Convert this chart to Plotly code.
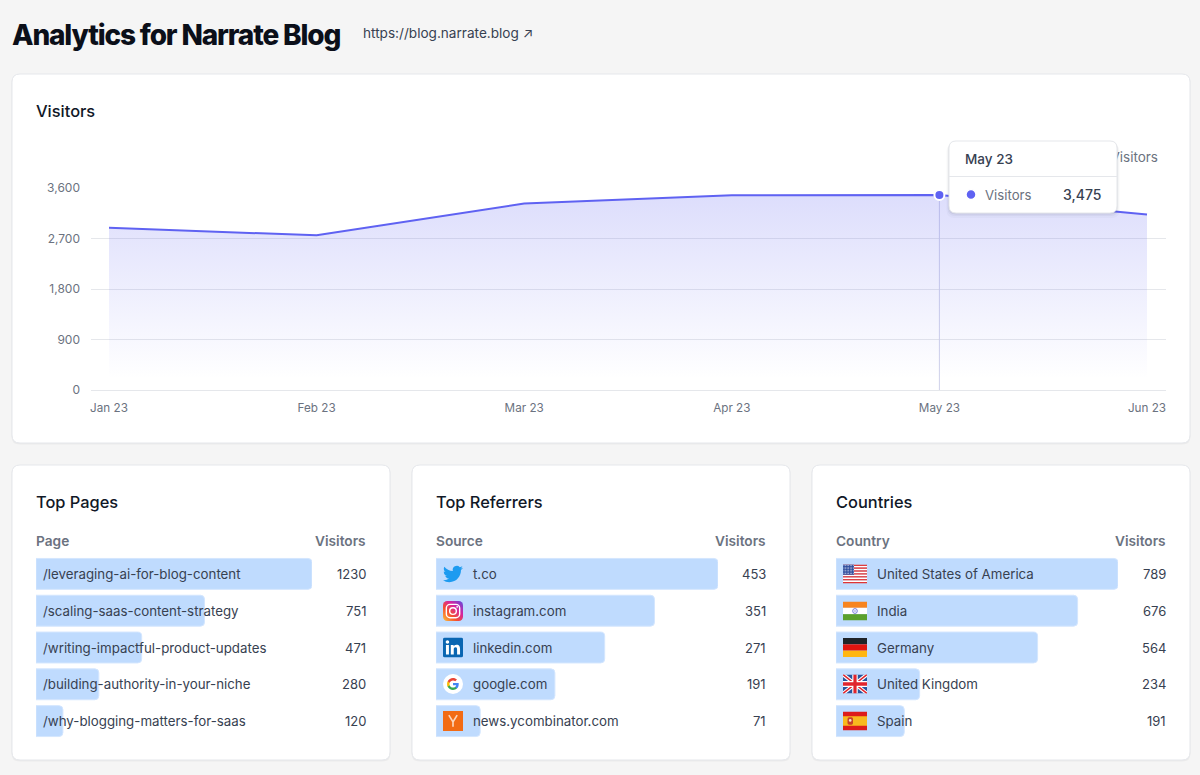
import base64
import plotly.graph_objects as go

W, H = 1200, 775

months = ["Jan 23", "Feb 23", "Mar 23", "Apr 23", "May 23", "Jun 23"]
visitors = [2890, 2756, 3322, 3470, 3475, 3129]
y_ticks = [0, 900, 1800, 2700, 3600]
y_tick_labels = ["0", "900", "1,800", "2,700", "3,600"]
highlight_index = 4

pages = ["/leveraging-ai-for-blog-content", "/scaling-saas-content-strategy",
         "/writing-impactful-product-updates", "/building-authority-in-your-niche",
         "/why-blogging-matters-for-saas"]
page_visitors = [1230, 751, 471, 280, 120]
referrers = ["t.co", "instagram.com", "linkedin.com", "google.com", "news.ycombinator.com"]
referrer_visitors = [453, 351, 271, 191, 71]
countries = ["United States of America", "India", "Germany", "United Kingdom", "Spain"]
country_visitors = [789, 676, 564, 234, 191]

FONT = "Inter"
INDIGO = "#5f62f2"
BAR = "#bfdbfe"
GRID = "#e5e7eb"
MUTED = "#6b7280"
TEXT = "#374151"
DARK = "#111827"


def px(x):
    return x / W


def py(y):
    return 1 - y / H


def rrect(x0, y0, x1, y1, r):
    return (f"M{px(x0+r)},{py(y0)} L{px(x1-r)},{py(y0)} Q{px(x1)},{py(y0)} {px(x1)},{py(y0+r)} "
            f"L{px(x1)},{py(y1-r)} Q{px(x1)},{py(y1)} {px(x1-r)},{py(y1)} "
            f"L{px(x0+r)},{py(y1)} Q{px(x0)},{py(y1)} {px(x0)},{py(y1-r)} "
            f"L{px(x0)},{py(y0+r)} Q{px(x0)},{py(y0)} {px(x0+r)},{py(y0)} Z")


def svg_uri(body, vw=24, vh=24):
    s = f'<svg xmlns="http://www.w3.org/2000/svg" viewBox="0 0 {vw} {vh}" width="{vw*4}" height="{vh*4}">{body}</svg>'
    return "data:image/svg+xml;base64," + base64.b64encode(s.encode()).decode()


TWITTER = ('<path fill="#1d9bf0" d="M23.953 4.57a10 10 0 01-2.825.775 4.958 4.958 0 002.163-2.723c-.951.555-2.005.959-3.127 1.184a4.92 4.92 0 00-8.384 4.482C7.69 8.095 4.067 6.13 1.64 3.162a4.822 4.822 0 00-.666 2.475c0 1.71.87 3.213 2.188 4.096a4.904 4.904 0 01-2.228-.616v.06a4.923 4.923 0 003.946 4.827 4.996 4.996 0 01-2.212.085 4.936 4.936 0 004.604 3.417 9.867 9.867 0 01-6.102 2.105c-.39 0-.779-.023-1.17-.067a13.995 13.995 0 007.557 2.209c9.053 0 13.998-7.496 13.998-13.985 0-.21 0-.42-.015-.63A9.935 9.935 0 0024 4.59z"/>')
INSTAGRAM = ('<defs><linearGradient id="g" x1="0" y1="1" x2="1" y2="0"><stop offset="0" stop-color="#fdc13a"/>'
             '<stop offset=".35" stop-color="#f5512d"/><stop offset=".65" stop-color="#d6249f"/>'
             '<stop offset="1" stop-color="#5b4fe0"/></linearGradient></defs>'
             '<rect width="24" height="24" rx="5" fill="url(#g)"/>'
             '<rect x="4" y="4" width="16" height="16" rx="4.5" fill="none" stroke="#fff" stroke-width="1.7"/>'
             '<circle cx="12" cy="12" r="4" fill="none" stroke="#fff" stroke-width="1.7"/>'
             '<circle cx="17" cy="7" r="1.1" fill="#fff"/>')
LINKEDIN = ('<rect width="24" height="24" rx="2" fill="#0a66b2"/><path fill="#fff" d="M20.447 20.452h-3.554v-5.569c0-1.328-.027-3.037-1.852-3.037-1.853 0-2.136 1.445-2.136 2.939v5.667H9.351V9h3.414v1.561h.046c.477-.9 1.637-1.85 3.37-1.85 3.601 0 4.267 2.37 4.267 5.455v6.286zM5.337 7.433c-1.144 0-2.063-.926-2.063-2.065 0-1.138.92-2.063 2.063-2.063 1.14 0 2.064.925 2.064 2.063 0 1.139-.925 2.065-2.064 2.065zm1.782 13.019H3.555V9h3.564v11.452z"/>')
GOOGLE = ('<circle cx="12" cy="12" r="12" fill="#fff"/><g transform="translate(4.2 4.2) scale(.65)">'
          '<path fill="#4285F4" d="M22.56 12.25c0-.78-.07-1.53-.2-2.25H12v4.26h5.92c-.26 1.37-1.04 2.53-2.21 3.31v2.77h3.57c2.08-1.92 3.28-4.74 3.28-8.09z"/>'
          '<path fill="#34A853" d="M12 23c2.97 0 5.46-.98 7.28-2.66l-3.57-2.77c-.98.66-2.23 1.06-3.71 1.06-2.86 0-5.29-1.93-6.16-4.53H2.18v2.84C3.99 20.53 7.7 23 12 23z"/>'
          '<path fill="#FBBC05" d="M5.84 14.09c-.22-.66-.35-1.36-.35-2.09s.13-1.43.35-2.09V7.07H2.18C1.43 8.55 1 10.22 1 12s.43 3.45 1.18 4.93l2.85-2.22.81-.62z"/>'
          '<path fill="#EA4335" d="M12 5.38c1.62 0 3.06.56 4.21 1.64l3.15-3.15C17.45 2.09 14.97 1 12 1 7.7 1 3.99 3.47 2.18 7.07l3.66 2.84c.87-2.6 3.3-4.53 6.16-4.53z"/></g>')
YC = ('<rect width="24" height="24" fill="#f26b15"/><path d="M7 5 L12 13 L17 5 M12 13 V19" fill="none" stroke="#fbd6bd" stroke-width="2"/>')

stripes = "".join(f'<rect y="{i*18/13:.2f}" width="24" height="{18/13:.2f}" fill="{"#e02d2d" if i % 2 == 0 else "#fff"}"/>' for i in range(13))
stars = "".join(f'<circle cx="{1+j*1.55:.2f}" cy="{1+i*1.5:.2f}" r=".45" fill="#fff"/>' for i in range(6) for j in range(7))
FLAG_US = stripes + '<rect width="11" height="9.7" fill="#2f4d9e"/>' + stars
FLAG_IN = ('<rect width="24" height="6" fill="#f7841e"/><rect y="6" width="24" height="6" fill="#fff"/>'
           '<rect y="12" width="24" height="6" fill="#5aa02c"/><circle cx="12" cy="9" r="2.3" fill="none" stroke="#5a5fd6" stroke-width=".8"/>'
           '<circle cx="12" cy="9" r=".6" fill="#5a5fd6"/>')
FLAG_DE = ('<rect width="24" height="6" fill="#1f2328"/><rect y="6" width="24" height="6" fill="#e0140f"/>'
           '<rect y="12" width="24" height="6" fill="#ffb612"/>')
FLAG_GB = ('<rect width="24" height="18" fill="#27559f"/><path d="M0 0 L24 18 M24 0 L0 18" stroke="#fff" stroke-width="3.6"/>'
           '<path d="M0 0 L24 18 M24 0 L0 18" stroke="#e0242d" stroke-width="1.4"/>'
           '<path d="M12 0 V18 M0 9 H24" stroke="#fff" stroke-width="5.5"/><path d="M12 0 V18 M0 9 H24" stroke="#e0242d" stroke-width="3.2"/>')
FLAG_ES = ('<rect width="24" height="18" fill="#dd1c1c"/><rect y="4.5" width="24" height="9" fill="#f8b91e"/>'
           '<rect x="4.5" y="5.5" width="5.5" height="7" rx="1.5" fill="#c8402a"/><circle cx="7.2" cy="8.5" r="1.3" fill="#f5e6d0"/>')

referrer_icons = [TWITTER, INSTAGRAM, LINKEDIN, GOOGLE, YC]
country_flags = [FLAG_US, FLAG_IN, FLAG_DE, FLAG_GB, FLAG_ES]

fig = go.Figure()
shapes, annots, images = [], [], []


def label(x, y, text, size=13.3, color=TEXT, weight=400, xanchor="left", family=FONT, xref="paper", yref="paper"):
    annots.append(dict(x=px(x) if xref == "paper" else x,
                       y=py(y) if yref == "paper" else y,
                       xref=xref, yref=yref, text=text, showarrow=False,
                       xanchor=xanchor, yanchor="middle", align=xanchor,
                       borderpad=0, borderwidth=0,
                       font=dict(family=family, size=size, color=color, weight=weight)))


# cards
for c in [(12, 74, 1190, 443), (12, 465, 390, 760), (412, 465, 790, 760), (812, 465, 1190, 760)]:
    shapes.append(dict(type="path", path=rrect(c[0]-0.5, c[1]+1, c[2]+0.5, c[3]+1.5, 8), xref="paper", yref="paper",
                       fillcolor="rgba(0,0,0,0.04)", line_width=0, layer="below"))
    shapes.append(dict(type="path", path=rrect(*c, 8), xref="paper", yref="paper", fillcolor="#ffffff",
                       line=dict(color=GRID, width=1), layer="below"))

# main area chart
positions = list(range(len(months)))
fig.add_trace(go.Scatter(
    x=positions, y=visitors, mode="lines", xaxis="x", yaxis="y", showlegend=False,
    line=dict(color=INDIGO, width=2), fill="tozeroy",
    fillgradient=dict(type="vertical", start=200, stop=3475,
                      colorscale=[[0, "rgba(99,102,241,0)"], [1, "rgba(99,102,241,0.22)"]]),
    hoverinfo="skip"))
fig.add_trace(go.Scatter(
    x=[positions[highlight_index]], y=[visitors[highlight_index]], mode="markers", xaxis="x", yaxis="y",
    showlegend=False, marker=dict(size=10, color=INDIGO, line=dict(color="#ffffff", width=2)), hoverinfo="skip"))
# legend text on its own hidden axes, drawn as a trace so the tooltip card can cover it
fig.add_trace(go.Scatter(
    x=[1], y=[0.5], mode="text", text=["Visitors"], textposition="middle left", xaxis="x5", yaxis="y5",
    showlegend=False, cliponaxis=False, textfont=dict(family=FONT, size=13.5, color=MUTED), hoverinfo="skip"))

shapes.append(dict(type="line", xref="x", yref="y", x0=positions[highlight_index], x1=positions[highlight_index],
                   y0=0, y1=visitors[highlight_index], line=dict(color="#cfd2ea", width=1), layer="between"))

# lower bar panels
panels = [
    ("x2", "y2", 36, 312, pages, page_visitors, 43),
    ("x3", "y3", 436, 718, referrers, referrer_visitors, 473),
    ("x4", "y4", 836, 1118, countries, country_visitors, 877),
]
for xa, ya, x0, x1, cats, vals, label_x in panels:
    fig.add_trace(go.Bar(x=vals, y=cats, orientation="h", xaxis=xa, yaxis=ya, showlegend=False,
                         marker=dict(color=BAR, line=dict(color="#d4e6fe", width=1), cornerradius=4), width=0.84, hoverinfo="skip"))
    for c, v in zip(cats, vals):
        label(label_x, 0, c, yref=ya)
        annots[-1]["y"] = c
        label(x0 + 330, 0, str(v), yref=ya, size=13, xanchor="right")
        annots[-1]["y"] = c

layout_axes = dict(
    xaxis=dict(domain=[px(91), px(1166)], range=[-18/207.6, 5 + 19/207.6], tickvals=positions, ticktext=months,
               showgrid=False, zeroline=False, showline=False, ticks="", ticklabelstandoff=9, automargin=False,
               tickfont=dict(family=FONT, size=11.7, color=MUTED), anchor="y", fixedrange=True),
    yaxis=dict(domain=[py(390), py(188)], range=[0, 3600], tickvals=y_ticks, ticktext=y_tick_labels,
               showgrid=True, gridcolor=GRID, gridwidth=1, zeroline=True, zerolinecolor=GRID, zerolinewidth=1, showline=False, ticks="",
               ticklabelstandoff=10, automargin=False, tickfont=dict(family=FONT, size=12, color=MUTED), anchor="x", fixedrange=True),
    xaxis5=dict(domain=[px(1098), px(1158)], range=[0, 1], visible=False, anchor="y5", fixedrange=True, automargin=False),
    yaxis5=dict(domain=[py(169), py(149)], range=[0, 1], visible=False, anchor="x5", fixedrange=True, automargin=False),
)
for xa, ya, x0, x1, cats, vals, _ in panels:
    xk, yk = "xaxis" + xa[1:], "yaxis" + ya[1:]
    layout_axes[xk] = dict(domain=[px(x0), px(x1)], range=[0, max(vals)], visible=False, anchor=ya, fixedrange=True, automargin=False)
    layout_axes[yk] = dict(domain=[py(739.5), py(555.5)], categoryorder="array", categoryarray=cats,
                           autorange="reversed", visible=False, anchor=xa, fixedrange=True, automargin=False)

# headings
TITLE = "Analytics for Narrate Blog"
label(12, 35, TITLE, size=28, color="#0b0f19", weight=800)
label(363, 33.5, "https://blog.narrate.blog ↗", size=13.6)
label(36, 111.5, "Visitors", size=16.4, color=DARK, weight=500)
for x0, title, head in [(36, "Top Pages", "Page"), (436, "Top Referrers", "Source"), (836, "Countries", "Country")]:
    label(x0, 502, title, size=16.4, color=DARK, weight=500)
    label(x0, 541, head, size=13.7, color=MUTED, weight=600)
    label(x0 + 330, 541, "Visitors", size=13.7, color=MUTED, weight=600, xanchor="right")

# tooltip card
for off, alpha in [(5, 0.025), (3, 0.04), (1.5, 0.06)]:
    shapes.append(dict(type="path", path=rrect(949-off/2, 141+off/2, 1117+off/2, 213+off, 8), xref="paper", yref="paper",
                       fillcolor=f"rgba(17,24,39,{alpha})", line_width=0, layer="above"))
shapes.append(dict(type="path", path=rrect(949, 141, 1117, 213, 7), xref="paper", yref="paper",
                   fillcolor="#ffffff", line=dict(color=GRID, width=1), layer="above"))
shapes.append(dict(type="line", xref="paper", yref="paper", x0=px(949), x1=px(1117), y0=py(176.5), y1=py(176.5),
                   line=dict(color=GRID, width=1), layer="above"))
shapes.append(dict(type="circle", xref="paper", yref="paper", x0=px(966), x1=px(976), y0=py(199.5), y1=py(189.5),
                   fillcolor=INDIGO, line=dict(color="#ffffff", width=1.5), layer="above"))
label(965, 159, months[highlight_index], size=13.5, weight=500)
label(985, 194.5, "Visitors", size=13.2, color=MUTED)
label(1101, 194.5, f"{visitors[highlight_index]:,}", size=14, weight=500, xanchor="right")

# icons
rows_y = [574, 611, 647.5, 684, 721]
for svg, yc in zip(referrer_icons, rows_y):
    images.append(dict(source=svg_uri(svg), xref="paper", yref="paper", x=px(443), y=py(yc-10), sizex=20/W, sizey=20/H,
                       xanchor="left", yanchor="top", sizing="stretch", layer="above"))
for svg, yc in zip(country_flags, rows_y):
    images.append(dict(source=svg_uri(svg, 24, 18), xref="paper", yref="paper", x=px(843), y=py(yc-9.5), sizex=24/W, sizey=19/H,
                       xanchor="left", yanchor="top", sizing="stretch", layer="above"))

fig.update_layout(width=W, height=H, margin=dict(l=0, r=0, t=0, b=0, pad=0), autosize=False,
                  paper_bgcolor="#f5f5f5", plot_bgcolor="rgba(0,0,0,0)", showlegend=False, bargap=0.16,
                  font=dict(family=FONT), shapes=shapes, annotations=annots, images=images, **layout_axes)

post = ("document.body.style.margin='0';document.body.style.background='#f5f5f5';"
        "document.documentElement.style.overflow='hidden';"
        "document.querySelectorAll('.annotation-text').forEach(function(t){"
        "if(t.textContent==='" + TITLE + "'){t.style.letterSpacing='-1.15px';}});")
fig.write_html("out.html", config=dict(displayModeBar=False, responsive=False), post_script=post)
